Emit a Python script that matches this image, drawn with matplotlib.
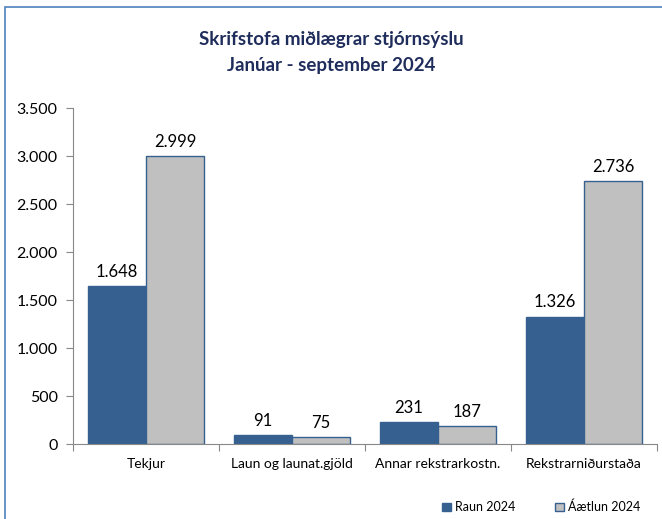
import matplotlib
matplotlib.use("Agg")
import matplotlib.pyplot as plt
from matplotlib.patches import Rectangle
import numpy as np

categories = ["Tekjur", "Laun og launat.gjöld", "Annar rekstrarkostn.", "Rekstrarniðurstaða"]
raun = [1648, 91, 231, 1326]
aaetlun = [2999, 75, 187, 2736]
series_names = ["Raun 2024", "Áætlun 2024"]
yticks = [0, 500, 1000, 1500, 2000, 2500, 3000, 3500]

plt.rcParams['font.family'] = ['Lato', 'DejaVu Sans']

W, H = 662, 519
fig = plt.figure(figsize=(W / 100, H / 100), dpi=100)

# chart border
fig.patches.append(Rectangle((5 / W, -0.1), 1.2, 1 - 7 / H + 0.1, transform=fig.transFigure,
                             fill=False, edgecolor='#4F81BD', linewidth=1.2))

ax = fig.add_axes([73 / W, 1 - 444 / H, (657 - 73) / W, (444 - 108) / H])

x = np.arange(len(categories))
w = 0.4
blue = '#36608F'
gray = '#C0C0C0'
b1 = ax.bar(x - w / 2, raun, w, color=blue, edgecolor=blue, linewidth=1, label=series_names[0])
b2 = ax.bar(x + w / 2, aaetlun, w, color=gray, edgecolor=blue, linewidth=1, label=series_names[1])

def fmt(v):
    return f"{v:,}".replace(",", ".")

for bars, vals in ((b1, raun), (b2, aaetlun)):
    for r, v in zip(bars, vals):
        ax.text(r.get_x() + r.get_width() / 2, v + 65, fmt(v), ha='center', va='bottom',
                fontsize=12, color='#000000')

ax.set_xlim(-0.5, len(categories) - 0.5)
ax.set_ylim(0, 3500)
ax.set_yticks(yticks)
ax.set_yticklabels([fmt(v) for v in yticks], fontsize=11.5)
ax.set_xticks(np.arange(-0.5, len(categories), 1.0))
ax.set_xticklabels([])
ax.set_xticks(x, minor=True)
ax.set_xticklabels(categories, minor=True, fontsize=10)
ax.tick_params(axis='x', which='minor', length=0, pad=10)
ax.tick_params(axis='x', which='major', length=5, color='#888888')
ax.tick_params(axis='y', length=5, color='#888888', pad=6)
for s in ('top', 'right'):
    ax.spines[s].set_visible(False)
for s in ('left', 'bottom'):
    ax.spines[s].set_color('#888888')

fig.text(0.5, 1 - 40 / H, "Skrifstofa miðlægrar stjórnsýslu", ha='center', va='center',
         fontsize=13.5, fontweight='bold', color='#1F2D5C')
fig.text(0.5, 1 - 66 / H, "Janúar - september 2024", ha='center', va='center',
         fontsize=13.5, fontweight='bold', color='#1F2D5C')

leg = fig.legend(handles=[b1, b2], labels=series_names, loc='center', bbox_to_anchor=(541 / W, 1 - 507 / H),
                 ncol=2, frameon=False, fontsize=9, handlelength=0.7, handleheight=0.7,
                 columnspacing=3.2, handletextpad=0.3)

fig.savefig("out.png", dpi=100)
